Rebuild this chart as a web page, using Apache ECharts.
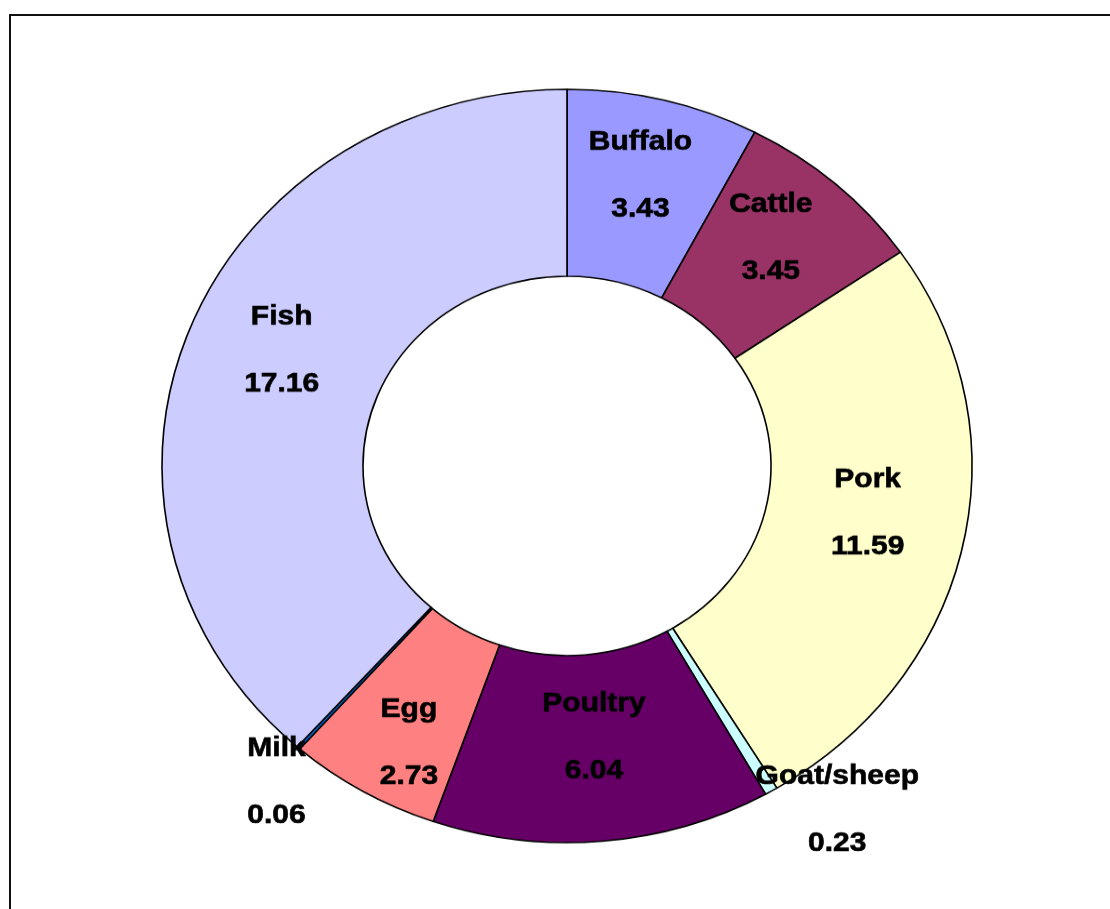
<!DOCTYPE html>
<html>
<head>
<meta charset="utf-8">
<script src="https://cdn.jsdelivr.net/npm/echarts@6/dist/echarts.min.js"></script>
<style>
  html, body { margin: 0; padding: 0; background: #fff; }
  #wrap { position: relative; width: 1110px; height: 909px; overflow: hidden; background: #fff; }
  #frame { position: absolute; left: 9px; top: 14px; width: 1200px; height: 1000px; border: 2px solid #111; box-sizing: border-box; }
  /* the ring is drawn slightly flattened, as an ellipse */
  #chart { position: absolute; left: 0; top: 0; width: 1110px; height: 977px; transform: scaleY(0.93); transform-origin: 0 0; }
</style>
</head>
<body>
<div id="wrap">
  <div id="frame"></div>
  <div id="chart"></div>
</div>
<script>
// Share of animal protein by source, clockwise from the top
const categories = ['Buffalo', 'Cattle', 'Pork', 'Goat/sheep', 'Poultry', 'Egg', 'Milk', 'Fish'];
const values = [3.43, 3.45, 11.59, 0.23, 6.04, 2.73, 0.06, 17.16];
const sliceColors = ['#9999FF', '#993366', '#FFFFCC', '#CCFFFF', '#660066', '#FF8080', '#0066CC', '#CCCCFF'];
// small slices get their labels outside the ring
const outsideLabels = ['Goat/sheep', 'Milk'];
// label nudges [dx, dy] in px
const labelNudge = {
  'Buffalo': [0, -14], 'Cattle': [0, -15], 'Pork': [0, -14], 'Goat/sheep': [61, 20],
  'Poultry': [0, -15], 'Egg': [-3, 32], 'Milk': [-17, 37], 'Fish': [2, -15]
};

const chart = echarts.init(document.getElementById('chart'), null, { renderer: 'canvas' });

const pieData = categories.map((name, i) => {
  const item = { name: name, value: values[i], itemStyle: { color: sliceColors[i] } };
  if (outsideLabels.includes(name)) {
    item.label = { position: 'outside' };
    item.labelLine = { show: false, length: 0, length2: 0 };
  }
  return item;
});

chart.setOption({
  animation: false,
  backgroundColor: 'transparent',
  series: [{
    type: 'pie',
    center: [567, 501],
    radius: [204, 405],
    startAngle: 90,
    clockwise: true,
    avoidLabelOverlap: false,
    data: pieData,
    itemStyle: { borderColor: '#000', borderWidth: 1.6 },
    emphasis: { disabled: true },
    label: {
      show: true,
      position: 'inside',
      formatter: '{b}\n\n{c}',
      color: '#000',
      fontFamily: 'Liberation Sans, Arial, sans-serif',
      fontWeight: 'bold',
      fontSize: 30,
      lineHeight: 36,
      align: 'center',
      textBorderColor: '#000',
      textBorderWidth: 0.7
    },
    labelLine: { show: false },
    labelLayout: function (params) {
      const name = categories[params.dataIndex];
      const n = labelNudge[name] || [0, 0];
      return { dx: n[0], dy: n[1], align: 'center', verticalAlign: 'middle' };
    }
  }]
});
</script>
</body>
</html>
